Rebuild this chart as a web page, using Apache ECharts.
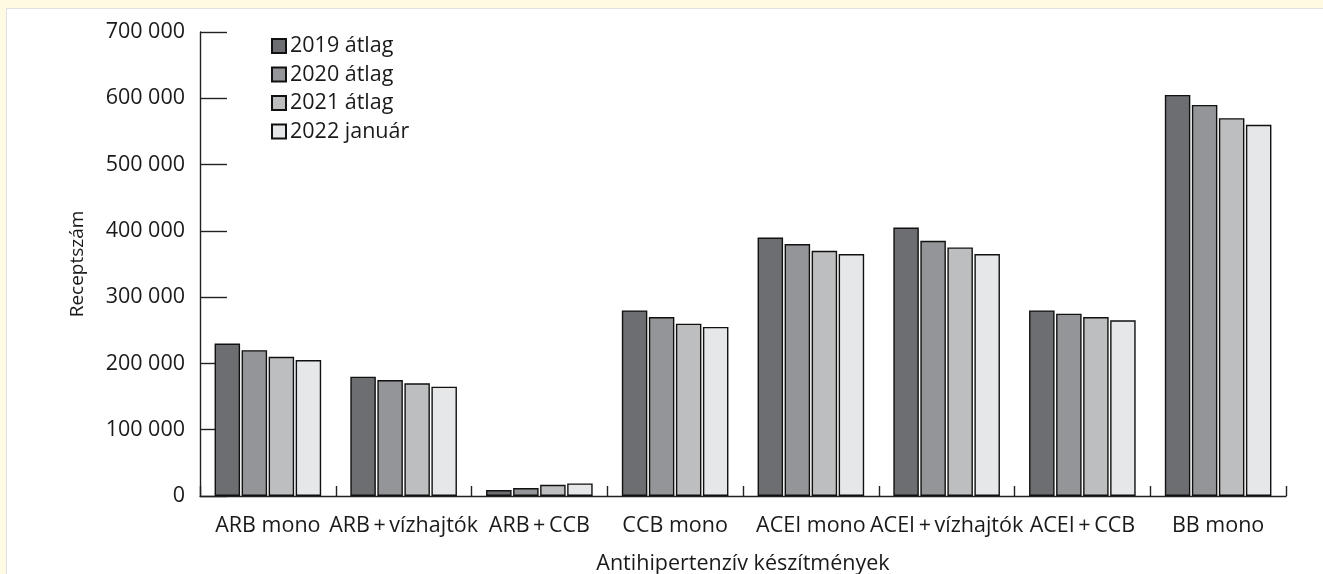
<!DOCTYPE html>
<html>
<head>
<meta charset="utf-8">
<script src="https://cdn.jsdelivr.net/npm/echarts@6/dist/echarts.min.js"></script>
<style>
  html, body { margin: 0; padding: 0; background: #fffbe2; }
  #panel { position: absolute; left: 6px; top: 8px; width: 1330px; height: 580px;
           background: #ffffff; border: 1px solid #dfdfe6; box-sizing: border-box; }
  #chart { position: absolute; left: 0; top: 0; width: 1323px; height: 574px; }
</style>
</head>
<body>
<div id="panel"></div>
<div id="chart"></div>
<script>
// Antihypertensive prescription counts by drug group
const categories = ['ARB mono', 'ARB\u2009+\u2009vízhajtók', 'ARB\u2009+\u2009CCB', 'CCB mono',
                    'ACEI mono', 'ACEI\u2009+\u2009vízhajtók', 'ACEI\u2009+\u2009CCB', 'BB mono'];
const seriesNames = ['2019 átlag', '2020 átlag', '2021 átlag', '2022 január'];
const avg2019 = [230000, 180000, 9000, 280000, 390000, 405000, 280000, 605000];
const avg2020 = [220000, 175000, 12000, 270000, 380000, 385000, 275000, 590000];
const avg2021 = [210000, 170000, 17000, 260000, 370000, 375000, 270000, 570000];
const jan2022 = [205000, 165000, 19000, 255000, 365000, 365000, 265000, 560000];
const seriesValues = [avg2019, avg2020, avg2021, jan2022];
const fills = ['#6d6e72', '#939598', '#bcbec0', '#e6e7e8'];

const FONT = '"Open Sans", Lato, sans-serif';
const SIZE = 21.5;
const chart = echarts.init(document.getElementById('chart'), null, { renderer: 'canvas' });

chart.setOption({
  backgroundColor: 'transparent',
  animation: false,
  textStyle: { fontFamily: FONT, color: '#1a1a1a' },
  grid: { left: 200, right: 37, top: 32, bottom: 78, containLabel: false, outerBoundsMode: 'none' },
  legend: {
    orient: 'vertical',
    left: 266, top: 30,
    itemWidth: 14, itemHeight: 14, itemGap: 6.5,
    icon: 'rect',
    textStyle: { fontFamily: FONT, fontSize: SIZE, lineHeight: 22, color: '#1a1a1a', padding: [0, 0, 0, -1] },
    data: seriesNames
  },
  xAxis: {
    type: 'category',
    data: categories,
    name: 'Antihipertenzív készítmények',
    nameLocation: 'middle',
    nameGap: 57,
    nameTextStyle: { fontFamily: FONT, fontSize: SIZE, color: '#1a1a1a' },
    axisLine: { lineStyle: { color: '#222', width: 1.4 } },
    axisTick: { show: true, inside: true, length: 10, alignWithLabel: false,
                lineStyle: { color: '#222', width: 1.4 } },
    axisLabel: { fontFamily: FONT, fontSize: SIZE, color: '#1a1a1a', margin: 19, interval: 0 }
  },
  yAxis: {
    type: 'value',
    min: 0, max: 700000, interval: 100000,
    name: 'Receptszám',
    nameLocation: 'middle',
    nameGap: 113,
    nameRotate: 90,
    nameTextStyle: { fontFamily: FONT, fontSize: 19, color: '#1a1a1a' },
    splitLine: { show: false },
    axisLine: { show: true, lineStyle: { color: '#222', width: 1.4 } },
    axisTick: { show: true, inside: true, length: 27, lineStyle: { color: '#222', width: 1.4 } },
    axisLabel: {
      fontFamily: FONT, fontSize: SIZE, color: '#1a1a1a', margin: 15,
      formatter: v => String(v).replace(/\B(?=(\d{3})+(?!\d))/g, ' ')
    }
  },
  series: seriesNames.map((name, i) => ({
    name,
    type: 'bar',
    data: seriesValues[i],
    barWidth: 25.5,
    barGap: '6%',
    itemStyle: { color: fills[i], borderColor: '#111', borderWidth: 1.4 }
  }))
});
</script>
</body>
</html>
